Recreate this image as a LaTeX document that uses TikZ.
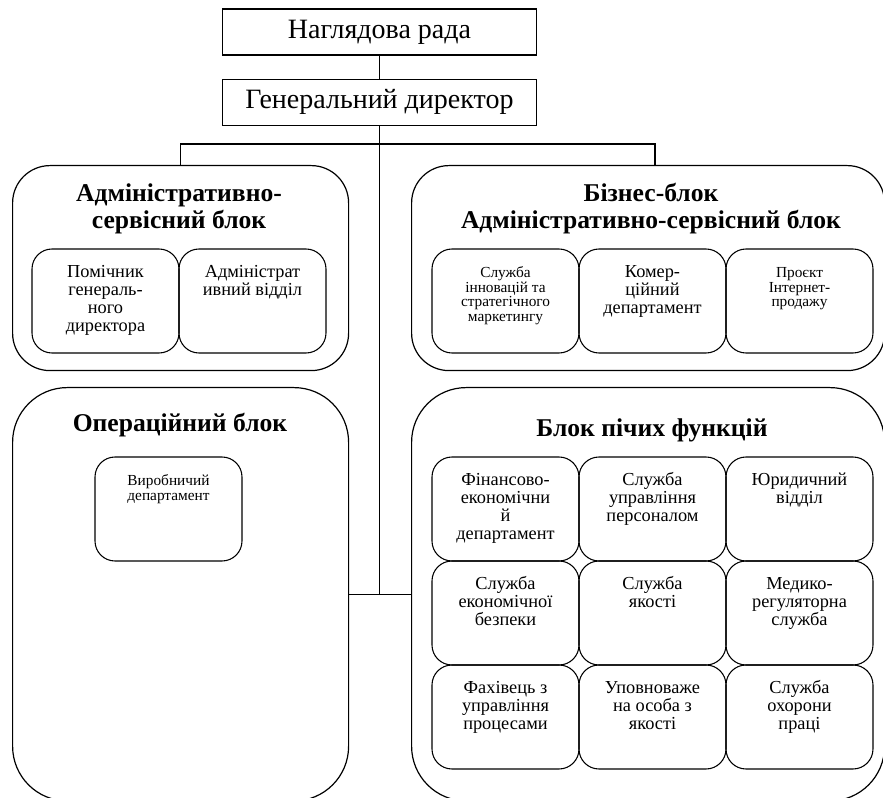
\documentclass[tikz,border=0pt]{standalone}
\usepackage{fontspec}
\setmainfont{Liberation Serif}
\usetikzlibrary{positioning}

% text kept at the top of a cell
\newcommand{\celltext}[1]{\parbox[c][56pt][t]{104pt}{\centering\rule{0pt}{10.5pt}#1}}

\begin{document}
\begin{tikzpicture}[
    x=0.75pt, y=-0.75pt,
    headbox/.style={
        rectangle, draw, line width=0.8pt,
        minimum width=236pt, minimum height=34.5pt,
        font=\fontsize{21}{25}\selectfont
    },
    block/.style={
        rectangle, draw, line width=0.9pt, anchor=north west,
        minimum width=252pt, inner sep=0pt
    },
    upper/.style={block, rounded corners=28pt, minimum height=153.75pt},
    lower/.style={block, rounded corners=41pt, minimum height=310pt},
    wide/.style={minimum width=354.75pt},
    cell/.style={
        rectangle, draw, line width=0.8pt, rounded corners=15pt,
        anchor=north west, outer sep=0pt,
        minimum width=110.25pt, minimum height=78pt,
        inner xsep=3pt, inner ysep=11pt,
        font=\fontsize{13.75}{13.5}\selectfont
    },
    small/.style={font=\fontsize{11.5}{11}\selectfont},
    title/.style={font=\fontsize{19.2}{20.25}\selectfont\bfseries, align=center},
    link/.style={line width=1.1pt},
]
\useasboundingbox (0,0) rectangle (883,798);
\clip (0,0) rectangle (883,798);

% HEAD
\node[headbox] (board) at (379.5,32) {Наглядова рада};
\node[headbox, below=17.25pt of board] (gd) {Генеральний директор};

% BLOCKS
\node[upper] (adm) at (12,165) {};
\node[upper, wide] (biz) at (411,165) {};
\node[lower] (oper) at (12,387) {};
\node[lower, wide] (func) at (411,387) {};

\node[title] (adm-title) at (179,209) {Адміністративно-\\сервісний блок};
\node[title] (biz-title) at (651,209) {Бізнес-блок\\Адміністративно-сервісний блок};
\node[title] (oper-title) at (180,425) {Операційний блок};
\node[title] (func-title) at (652,430) {Блок пічих функцій};

% administrative cells
\node[cell] (adm1) at (32,249) {\celltext{Помічник\\генераль-\\ного\\директора}};
\node[cell, right=0pt of adm1] (adm2) {\celltext{Адміністрат\\ивний відділ}};

% business cells
\node[cell, small] (biz1) at (432,249) {\celltext{Служба\\інновацій та\\стратегічного\\маркетингу}};
\node[cell, right=0pt of biz1] (biz2) {\celltext{Комер-\\ційний\\департамент}};
\node[cell, small, right=0pt of biz2] (biz3) {\celltext{Проєкт\\Інтернет-\\продажу}};

% operational cell
\node[cell, small] (oper1) at (95,457) {\celltext{Виробничий\\департамент}};

% functions grid
\node[cell] (f11) at (432,457) {\celltext{Фінансово-\\економічни\\й\\департамент}};
\node[cell, right=0pt of f11] (f12) {\celltext{Служба\\управління\\персоналом}};
\node[cell, right=0pt of f12] (f13) {\celltext{Юридичний\\відділ}};

\node[cell, below=0pt of f11] (f21) {\celltext{Служба\\економічної\\безпеки}};
\node[cell, right=0pt of f21] (f22) {\celltext{Служба\\якості}};
\node[cell, right=0pt of f22] (f23) {\celltext{Медико-\\регуляторна\\служба}};

\node[cell, below=0pt of f21] (f31) {\celltext{Фахівець з\\управління\\процесами}};
\node[cell, right=0pt of f31] (f32) {\celltext{Уповноваже\\на особа з\\якості}};
\node[cell, right=0pt of f32] (f33) {\celltext{Служба\\охорони\\праці}};

% CONNECTORS
\coordinate (fork) at (379.5,144);
\draw[link] (board) -- (gd);
\draw[link] (gd.south) -- (gd.south |- oper.east);
\draw[link] (adm.north) |- (fork) -| ([xshift=5pt]biz.north);
\draw[link] (oper.east) -- (func.west);

\end{tikzpicture}
\end{document}
